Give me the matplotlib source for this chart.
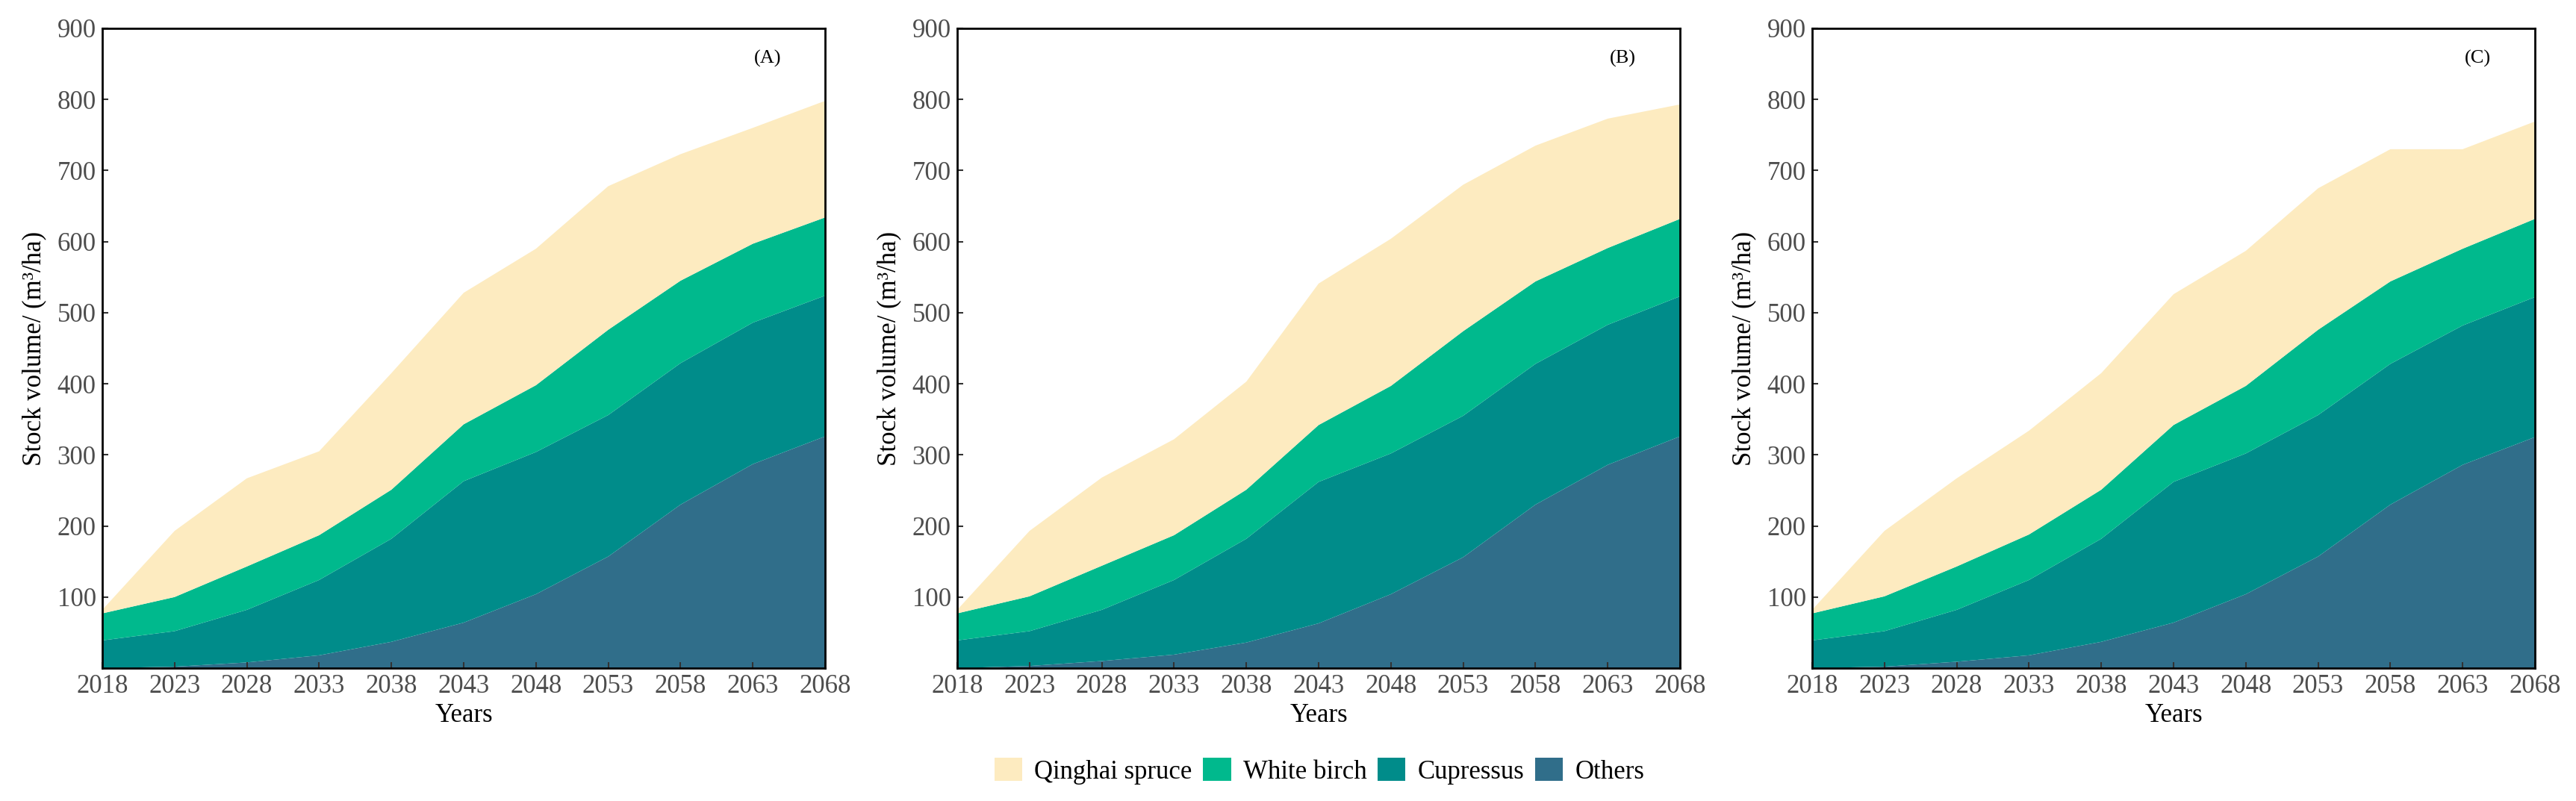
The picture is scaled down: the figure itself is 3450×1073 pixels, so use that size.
import numpy as np
import matplotlib
matplotlib.use("Agg")
import matplotlib.pyplot as plt
from matplotlib.patches import Patch

plt.rcParams["font.family"] = ["Liberation Serif", "DejaVu Serif"]

# данные (толщина каждого слоя, м³/га)
YEARS = [2018, 2023, 2028, 2033, 2038, 2043, 2048, 2053, 2058, 2063, 2068]
SPECIES = ["Qinghai spruce", "White birch", "Cupressus", "Others"]
COLORS = ["#FDEBC0", "#00B98D", "#008C8A", "#306E8A"]
PANELS = ["(A)", "(B)", "(C)"]

others_a = [0, 2, 8, 18, 37, 64, 104, 157, 230, 287, 326]
cupressus_a = [39, 50, 74, 106, 145, 199, 200, 199, 199, 199, 198]
birch_a = [38, 48, 61, 63, 69, 80, 94, 120, 116, 111, 110]
spruce_a = [5, 93, 124, 118, 164, 185, 192, 202, 178, 163, 164]

others_b = [0, 3, 10, 19, 36, 63, 104, 156, 230, 286, 326]
cupressus_b = [39, 49, 72, 105, 146, 199, 198, 199, 198, 197, 197]
birch_b = [38, 49, 62, 63, 69, 80, 95, 119, 116, 108, 109]
spruce_b = [5, 92, 124, 135, 152, 199, 207, 206, 191, 182, 161]

others_c = [0, 2, 9, 18, 37, 64, 104, 157, 230, 286, 325]
cupressus_c = [39, 50, 73, 106, 145, 198, 198, 199, 198, 196, 197]
birch_c = [38, 49, 61, 64, 69, 80, 95, 120, 116, 108, 110]
spruce_c = [5, 92, 124, 146, 164, 184, 190, 199, 186, 140, 137]

Y_TICKS = list(range(100, 901, 100))

W, H = 3450, 1073
fig = plt.figure(figsize=(W / 100, H / 100), dpi=100)

lefts = [137, 1282, 2427]
ax_w = 968
top, bottom = 38, 895

data = [
    (others_a, cupressus_a, birch_a, spruce_a),
    (others_b, cupressus_b, birch_b, spruce_b),
    (others_c, cupressus_c, birch_c, spruce_c),
]

for left, layers, label in zip(lefts, data, PANELS):
    ax = fig.add_axes([left / W, (H - bottom) / H, ax_w / W, (bottom - top) / H])
    # снизу вверх: Others, Cupressus, White birch, Qinghai spruce
    ax.stackplot(YEARS, *layers, colors=COLORS[::-1], linewidth=0)
    ax.set_xlim(2018, 2068)
    ax.set_ylim(0, 900)
    ax.set_xticks(YEARS)
    ax.set_yticks(Y_TICKS)
    ax.tick_params(direction="in", length=6, width=1.5, color="#333333",
                   labelcolor="#4D4D4D", labelsize=25, pad=6)
    for s in ax.spines.values():
        s.set_linewidth(2)
        s.set_color("black")
    ax.set_xlabel("Years", fontsize=25, labelpad=4)
    ax.set_ylabel("Stock volume/ (m³/ha)", fontsize=25, labelpad=10)
    ax.text(0.921, 0.953, label, transform=ax.transAxes, fontsize=19,
            ha="center", va="center")

handles = [Patch(facecolor=c, edgecolor="none") for c in COLORS]
fig.legend(handles, SPECIES, loc="center", bbox_to_anchor=(1767 / W, 1 - 1033 / H),
           ncol=4, frameon=False, fontsize=25, handlelength=1.07, handleheight=0.98,
           handletextpad=0.46, columnspacing=0.43, borderpad=0, borderaxespad=0)

fig.savefig("out.png", dpi=100)
